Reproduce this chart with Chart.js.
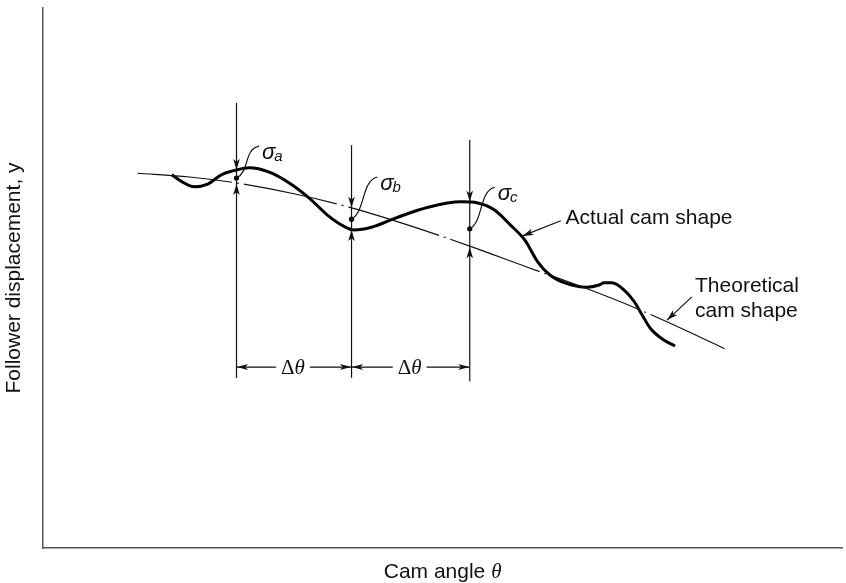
<!DOCTYPE html>
<html>
<head>
<meta charset="utf-8">
<script src="https://cdn.jsdelivr.net/npm/chart.js@4.4.0/dist/chart.umd.min.js"></script>
<style>
  html, body { margin: 0; padding: 0; background: #fff; }
  #wrap { width: 846px; height: 583px; position: relative; }
</style>
</head>
<body>
<div id="wrap"><canvas id="camChart"></canvas></div>
<script>
// theoretical cam shape (thin dash-dot line)
const theoX = [11.8, 18.3, 24.2, 31.4, 38.6, 45.7, 53.4, 60.6, 68.1, 74.7, 80.6, 85.3];
const theoY = [69.4, 68.7, 67.6, 65.6, 63.0, 59.8, 55.9, 52.0, 48.0, 44.1, 40.2, 36.9];

// actual cam shape (heavy line)
const actualX = [16.1, 17.4, 18.9, 20.6, 22.3, 24.2, 25.8, 28.3, 30.8, 33.3,
                 35.7, 37.6, 38.9, 41.1, 44.1, 48.2, 52.3, 54.4, 56.5, 58.5,
                 60.3, 61.9, 63.4, 65.3, 68.1, 69.6, 70.2, 71.2, 72.7, 74.0,
                 75.0, 76.0, 77.7, 79.1];
const actualY = [69.1, 67.8, 66.9, 67.4, 69.1, 70.0, 70.4, 69.6, 67.6, 64.8,
                 61.5, 59.6, 58.9, 59.4, 61.1, 63.1, 64.1, 63.9, 62.6, 59.8,
                 57.0, 53.0, 50.6, 49.1, 48.3, 48.7, 49.1, 49.1, 47.8, 45.6,
                 43.1, 40.7, 38.5, 37.4];

// measuring stations a, b, c
const stationNames = ['a', 'b', 'c'];
const stationX = [24.2, 38.6, 53.4];
const stationTop = [82.4, 74.6, 75.6];
const stationBottom = [31.5, 31.5, 30.9];
const upperTip = [70.0, 63.0, 64.1];
const lowerTip = [67.4, 58.9, 55.7];
const dotY = [68.5, 60.9, 59.1];
const sigmaX = [27.4, 42.2, 56.9];
const sigmaY = [72.0, 66.3, 64.4];
const deltaY = 33.5;

// callout labels
const calloutText = [['Actual cam shape'], ['Theoretical', 'cam shape']];
const calloutAt = [[65.4, 60.0], [81.6, 47.4]];
const calloutTail = [[64.8, 60.6], [81.2, 46.5]];
const calloutTip = [[60.0, 57.8], [78.1, 42.2]];

const SANS = '"Liberation Sans", Arial, sans-serif';
const SERIF = '"Liberation Serif", "Times New Roman", serif';

function arrowHead(ctx, x, y, ang, len, half) {
    len = len || 11; half = half || 3.3;
    ctx.save();
    ctx.translate(x, y);
    ctx.rotate(ang);
    ctx.beginPath();
    ctx.moveTo(0, 0);
    ctx.lineTo(-len, -half);
    ctx.lineTo(-len * 0.75, 0);
    ctx.lineTo(-len, half);
    ctx.closePath();
    ctx.fill();
    ctx.restore();
}

const camNotes = {
    id: 'camNotes',
    afterDatasetsDraw(chart) {
        const ctx = chart.ctx;
        const xs = chart.scales.x, ys = chart.scales.y;
        const X = v => xs.getPixelForValue(v);
        const Y = v => ys.getPixelForValue(v);
        ctx.save();
        ctx.strokeStyle = '#111';
        ctx.fillStyle = '#111';
        ctx.lineWidth = 1.2;
        ctx.textBaseline = 'alphabetic';
        ctx.textAlign = 'left';

        // verticals, arrows, leaders, sigma labels
        stationX.forEach((sx, i) => {
            const x = X(sx);
            ctx.beginPath();
            ctx.moveTo(x, Y(stationTop[i]));
            ctx.lineTo(x, Y(stationBottom[i]));
            ctx.stroke();
            arrowHead(ctx, x, Y(upperTip[i]), Math.PI / 2);
            arrowHead(ctx, x, Y(lowerTip[i]), -Math.PI / 2);

            const x0 = x, y0 = Y(dotY[i]);
            const lx = X(sigmaX[i]), ly = Y(sigmaY[i]);
            const x1 = lx - 3, y1 = ly - 13;
            ctx.beginPath();
            ctx.moveTo(x0, y0);
            ctx.bezierCurveTo(x0 + 14, y0 - 8, x1 - 16, y1 + 4, x1, y1);
            ctx.stroke();

            ctx.font = 'italic 22px ' + SANS;
            ctx.fillText('σ', lx, ly);
            const w = ctx.measureText('σ').width;
            ctx.font = 'italic 15px ' + SANS;
            ctx.fillText(stationNames[i], lx + w - 1, ly + 2);
        });

        // delta theta dimensions
        const dy = Y(deltaY);
        for (let i = 0; i < stationX.length - 1; i++) {
            const xa = X(stationX[i]), xb = X(stationX[i + 1]);
            const xm = (xa + xb) / 2 - 1;
            ctx.font = '21px ' + SERIF;
            const wD = ctx.measureText('Δ').width;
            ctx.font = 'italic 21px ' + SERIF;
            const wT = ctx.measureText('θ').width;
            const tw = wD + wT;
            const t0 = xm - tw / 2;
            ctx.font = '21px ' + SERIF;
            ctx.fillText('Δ', t0, dy + 7);
            ctx.font = 'italic 21px ' + SERIF;
            ctx.fillText('θ', t0 + wD, dy + 7);
            ctx.beginPath();
            ctx.moveTo(xa, dy); ctx.lineTo(t0 - 5, dy);
            ctx.moveTo(t0 + tw + 5, dy); ctx.lineTo(xb, dy);
            ctx.stroke();
            arrowHead(ctx, xa + 0.5, dy, Math.PI, 11, 3);
            arrowHead(ctx, xb - 0.5, dy, 0, 11, 3);
        }

        // callouts
        ctx.font = '21px ' + SANS;
        calloutText.forEach((lines, i) => {
            lines.forEach((s, k) => ctx.fillText(s, X(calloutAt[i][0]), Y(calloutAt[i][1]) + k * 25));
            const tx = X(calloutTail[i][0]), ty = Y(calloutTail[i][1]);
            const hx = X(calloutTip[i][0]), hy = Y(calloutTip[i][1]);
            ctx.beginPath();
            ctx.moveTo(tx, ty); ctx.lineTo(hx, hy);
            ctx.stroke();
            arrowHead(ctx, hx, hy, Math.atan2(hy - ty, hx - tx), 11, 3.3);
        });

        // x axis title with italic theta
        const mid = (chart.chartArea.left + chart.chartArea.right) / 2;
        ctx.font = '21px ' + SANS;
        const wa = ctx.measureText('Cam angle ').width;
        ctx.font = 'italic 21px ' + SERIF;
        const wb = ctx.measureText('θ').width;
        const sx = mid - (wa + wb) / 2;
        ctx.font = '21px ' + SANS;
        ctx.fillText('Cam angle ', sx, 578);
        ctx.font = 'italic 21px ' + SERIF;
        ctx.fillText('θ', sx + wa, 578);
        ctx.restore();
    }
};

const ctx = document.getElementById('camChart').getContext('2d');
new Chart(ctx, {
    type: 'line',
    data: {
        datasets: [{
            label: 'Theoretical cam shape',
            data: theoX.map((x, i) => ({ x: x, y: theoY[i] })),
            borderColor: '#111',
            borderWidth: 1.2,
            borderDash: [95, 5, 2, 5],
            pointRadius: 0,
            cubicInterpolationMode: 'monotone'
        }, {
            label: 'Actual cam shape',
            data: actualX.map((x, i) => ({ x: x, y: actualY[i] })),
            borderColor: '#000',
            borderWidth: 3,
            pointRadius: 0,
            cubicInterpolationMode: 'monotone'
        }, {
            label: 'stations',
            data: stationX.map((x, i) => ({ x: x, y: dotY[i] })),
            showLine: false,
            pointRadius: 2.6,
            pointBackgroundColor: '#000',
            pointBorderWidth: 0
        }]
    },
    options: {
        responsive: true,
        maintainAspectRatio: false,
        animation: false,
        events: [],
        layout: { padding: { top: 8, right: 0, bottom: 35, left: 0 } },
        plugins: { legend: { display: false }, tooltip: { enabled: false } },
        scales: {
            x: {
                type: 'linear', min: 0, max: 100,
                grid: { display: false, drawTicks: false },
                ticks: { display: false },
                border: { display: true, color: '#555', width: 1.5 }
            },
            y: {
                type: 'linear', min: 0, max: 100,
                grid: { display: false, drawTicks: false },
                ticks: { display: false },
                border: { display: true, color: '#555', width: 1.5 },
                title: {
                    display: true,
                    text: 'Follower displacement, y',
                    color: '#111',
                    font: { family: SANS, size: 21 },
                    padding: { top: 2, bottom: 16 }
                }
            }
        }
    },
    plugins: [camNotes]
});
</script>
</body>
</html>
